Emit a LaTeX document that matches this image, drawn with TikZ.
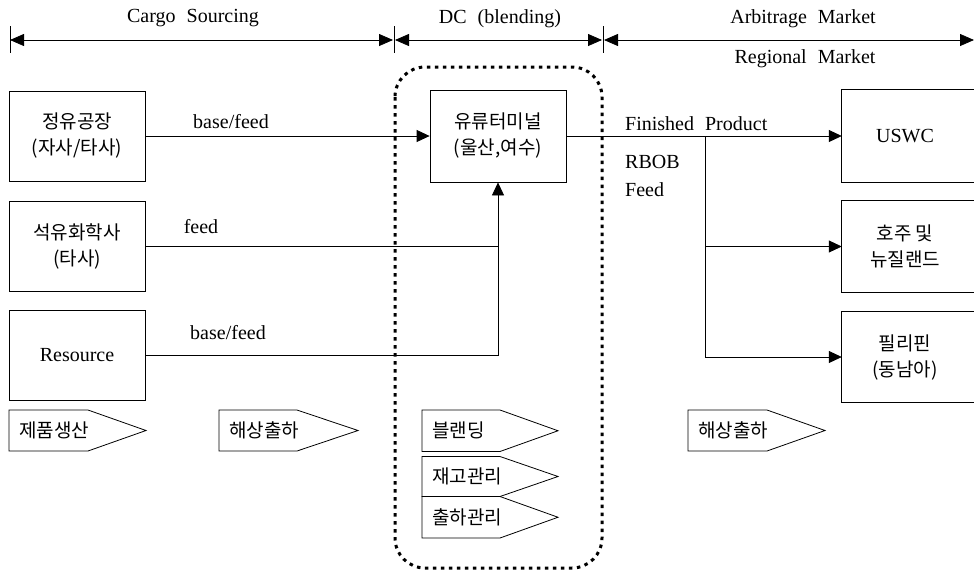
\documentclass[tikz,border=0pt]{standalone}
\usepackage{fontspec}
\setmainfont{Liberation Serif}
\newfontfamily\krfont{Noto Sans CJK KR}
\usetikzlibrary{arrows.meta,calc}
\newcommand{\wsp}{\hspace{0.55em}}
\newcommand{\tagbox}[7]{%
  \draw[boxline] (#2,#3) -- ++(#4,0) -- ++(#5,#6/2) -- ++(-#5,#6/2) -- ++(-#4,0) -- cycle;
  \node[kr, anchor=west] (#1) at (#2+10,#3+#6/2) {#7};}
\begin{document}
\begin{tikzpicture}[x=1pt,y=-1pt,
  lat/.style={font=\fontsize{20}{26}\selectfont, inner sep=0},
  kr/.style={font=\krfont\fontsize{19}{26}\selectfont, inner sep=0, align=center},
  boxline/.style={line width=0.8pt},
  box/.style={draw, line width=0.8pt, minimum width=136pt, minimum height=90pt, align=center, inner sep=0},
  conn/.style={line width=0.8pt},
  arr/.style={conn, -{Triangle[length=13pt,width=12pt]}},
  dbl/.style={conn, {Triangle[length=14pt,width=12pt]}-{Triangle[length=14pt,width=12pt]}},
  dotbox/.style={line width=3pt, dash pattern=on 3.5pt off 4.5pt, rounded corners=30pt}
]
\useasboundingbox (0,0) rectangle (974,571);
\clip (0,0) rectangle (974,571);

% top ranges
\coordinate (c0) at (10,40);
\coordinate (c1) at (394,40);
\coordinate (c2) at (603,40);
\coordinate (c3) at (974,40);
\foreach \c in {c0,c1,c2}{\draw[conn] ([yshift=14pt]\c) -- ([yshift=-13pt]\c);}
\draw[dbl] (c0) -- ([xshift=-1pt]c1);
\draw[dbl] ([xshift=1pt]c1) -- ([xshift=-1pt]c2);
\draw[dbl] ([xshift=1pt]c2) -- (c3);
\node[lat] (hcargo) at (193,18) {Cargo\wsp Sourcing};
\node[lat] (hdc) at (500,19) {DC\wsp(blending)};
\node[lat] (harb) at (803,19) {Arbitrage\wsp Market};
\node[lat] (hreg) at (805,59) {Regional\wsp Market};

% DC dotted region
\draw[dotbox] (395,67) rectangle (602,568);

% source boxes
\node[box,kr] (src1) at (77,136) {정유공장\\(자사/타사)};
\node[box,kr] (src2) at (77,246) {석유화학사\\(타사)};
\node[box,lat] (src3) at (77,355) {Resource};

% terminal
\node[box,kr,minimum height=92pt] (term) at (498,136) {유류터미널\\(울산,여수)};

% markets
\node[lat, minimum width=126pt, minimum height=92pt] (uswc) at (905,136) {USWC};
\node[kr, minimum width=126pt, minimum height=91pt] (aus) at (905,246.5) {호주 및\\뉴질랜드};
\node[kr, minimum width=126pt, minimum height=90pt] (phl) at (905,357) {필리핀\\(동남아)};
\foreach \n in {uswc,aus,phl}{\draw[boxline] ([xshift=150pt]\n.north west) -| (\n.south west) -- ++(150,0);}

% connectors
\draw[arr] (src1.east) -- (term.west);
\coordinate (j2) at (term.south |- src2.east);
\draw[conn] (src2.east) -- (j2);
\draw[arr] (src3.east) -| (term.south);
\coordinate (br) at (705,136);
\draw[arr] (term.east) -- (uswc.west);
\draw[arr] (br) |- (aus.west);
\draw[arr] (br) |- (phl.west);

% connector labels
\node[lat] (l1) at (231,122) {base/feed};
\node[lat] (l2) at (201,227) {feed};
\node[lat] (l3) at (228,333) {base/feed};
\node[lat, anchor=west] (fp) at (625,124) {Finished\wsp Product};
\node[lat, anchor=west] (rbob) at (625,162) {RBOB};
\node[lat, anchor=west] (fd) at (625,190) {Feed};

% process tags
\tagbox{t1}{9}{410}{79}{58}{41}{제품생산}
\tagbox{t2}{219}{410}{78}{61}{41}{해상출하}
\tagbox{t3}{422}{410}{78}{58}{41.5}{블랜딩}
\tagbox{t4}{422}{456.5}{78}{58}{40}{재고관리}
\tagbox{t5}{422}{496.5}{78}{58}{41.5}{출하관리}
\tagbox{t6}{688}{410}{79}{58}{41}{해상출하}
\end{tikzpicture}
\end{document}
